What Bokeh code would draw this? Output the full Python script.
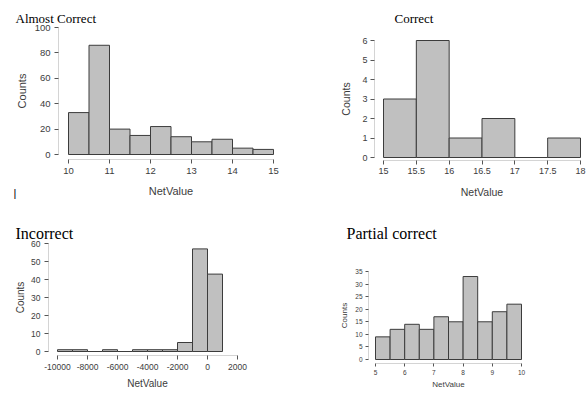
from bokeh.plotting import figure
from bokeh.layouts import column, row
from bokeh.models import Label, FixedTicker, Range1d
from bokeh.embed import file_html
from bokeh.resources import INLINE

# ---------------- data ----------------
ac_title = "Almost Correct"
ac_edges = [10, 10.5, 11, 11.5, 12, 12.5, 13, 13.5, 14, 14.5, 15]
ac_counts = [33, 86, 20, 15, 22, 14, 10, 12, 5, 4]
ac_xticks = [10, 11, 12, 13, 14, 15]
ac_xlabels = ["10", "11", "12", "13", "14", "15"]
ac_yticks = [0, 20, 40, 60, 80, 100]

co_title = "Correct"
co_edges = [15, 15.5, 16, 16.5, 17, 17.5, 18]
co_counts = [3, 6, 1, 2, 0, 1]
co_xticks = [15, 15.5, 16, 16.5, 17, 17.5, 18]
co_xlabels = ["15", "15.5", "16", "16.5", "17", "17.5", "18"]
co_yticks = [0, 1, 2, 3, 4, 5, 6]

in_title = "Incorrect"
in_edges = [-10000, -9000, -8000, -7000, -6000, -5000, -4000, -3000, -2000, -1000, 0, 1000]
in_counts = [1, 1, 0, 1, 0, 1, 1, 1, 5, 57, 43]
in_xticks = [-10000, -8000, -6000, -4000, -2000, 0, 2000]
in_xlabels = ["-10000", "-8000", "-6000", "-4000", "-2000", "0", "2000"]
in_yticks = [0, 10, 20, 30, 40, 50, 60]

pc_title = "Partial correct"
pc_edges = [5, 5.5, 6, 6.5, 7, 7.5, 8, 8.5, 9, 9.5, 10]
pc_counts = [9, 12, 14, 12, 17, 15, 33, 15, 19, 22]
pc_xticks = [5, 6, 7, 8, 9, 10]
pc_xlabels = ["5", "6", "7", "8", "9", "10"]
pc_yticks = [0, 5, 10, 15, 20, 25, 30, 35]

x_name = "NetValue"
y_name = "Counts"

FILL = "#c0c0c0"
EDGE = "#3c3c3c"
AXLINE = "#d4d4d4"
TICK = "#555555"
TXT = "#3c3c3c"
SANS = "Liberation Sans"
SERIF = "Liberation Serif"


def panel(edges, counts, xticks, xlabels, yticks, title, geo, sty, extra=None):
    ox, oy, W, H = geo["fig"]
    (xv0, px0), (xv1, px1) = geo["xcal"]
    (yv0, py0), (yv1, py1) = geo["ycal"]
    sx = (px1 - px0) / (xv1 - xv0)
    sy = (py0 - py1) / (yv1 - yv0)
    x0 = xv0 - (px0 - ox) / sx
    x1 = x0 + W / sx
    y0 = yv0 - (oy + H - py0) / sy
    y1 = y0 + H / sy

    def to_data(px, py):
        return x0 + (px - ox) / sx, y0 + (oy + H - py) / sy

    p = figure(width=W, height=H, output_backend="svg", toolbar_location=None,
               x_range=Range1d(x0, x1), y_range=Range1d(y0, y1), min_border=0)
    p.min_border_left = 0
    p.min_border_right = 0
    p.min_border_top = 0
    p.min_border_bottom = 0
    p.title = None
    p.xgrid.visible = False
    p.ygrid.visible = False
    p.outline_line_color = None
    p.background_fill_color = "white"
    p.border_fill_color = "white"

    p.quad(left=edges[:-1], right=edges[1:], bottom=[0] * len(counts), top=counts,
           fill_color=FILL, line_color=EDGE, line_width=1)

    for ax, ticks in ((p.xaxis[0], xticks), (p.yaxis[0], yticks)):
        ax.bounds = (ticks[0], ticks[-1])
        ax.ticker = FixedTicker(ticks=ticks)
        ax.minor_tick_in = 0
        ax.minor_tick_out = 0
        ax.major_tick_in = 0
        ax.major_tick_out = sty["tick"]
        ax.axis_line_color = AXLINE
        ax.major_tick_line_color = TICK
        ax.major_label_text_font = SANS
        ax.major_label_text_font_size = sty["tfs"]
        ax.major_label_text_color = TXT
        ax.major_label_standoff = sty["mls"]
        ax.axis_label_text_font = SANS
        ax.axis_label_text_font_size = sty["afs"]
        ax.axis_label_text_font_style = "normal"
        ax.axis_label_text_color = TXT
    p.xaxis[0].major_label_overrides = dict(zip(xticks, xlabels))
    p.yaxis[0].major_label_overrides = {t: str(t) for t in yticks}
    p.xaxis[0].axis_label = x_name
    p.yaxis[0].axis_label = y_name
    p.xaxis[0].axis_label_standoff = sty["xals"]
    p.yaxis[0].axis_label_standoff = sty["yals"]

    ax_x, ax_y = geo["axes"]
    p.yaxis[0].fixed_location = to_data(ax_x, 0)[0]
    p.xaxis[0].fixed_location = to_data(0, ax_y)[1]

    tx, ty = to_data(*geo["title"])
    p.add_layout(Label(x=tx, y=ty, text=title, text_font=SERIF,
                       text_font_size=geo["title_fs"], text_color="black",
                       text_baseline="alphabetic", text_align="left"))
    if extra:
        ex, ey = to_data(*extra[0])
        p.add_layout(Label(x=ex, y=ey, text=extra[1], text_font=SANS,
                           text_font_size="11px", text_color="black",
                           text_baseline="middle", text_align="left"))
    return p


p1 = panel(ac_edges, ac_counts, ac_xticks, ac_xlabels, ac_yticks, ac_title,
           dict(fig=(0, 0, 294, 200), axes=(58, 159),
                xcal=((10, 68), (15, 273)), ycal=((0, 154), (100, 27)),
                title=(15, 18), title_fs="13px"),
           dict(tick=4, tfs="9.5px", afs="11px", mls=4, xals=8, yals=4),
           extra=((13, 192), "|"))
p2 = panel(co_edges, co_counts, co_xticks, co_xlabels, co_yticks, co_title,
           dict(fig=(294, 0, 294, 200), axes=(374, 160),
                xcal=((15, 383), (18, 580)), ycal=((0, 157), (6, 40)),
                title=(394, 18), title_fs="13px"),
           dict(tick=4, tfs="9px", afs="10.5px", mls=3, xals=9, yals=7))
p3 = panel(in_edges, in_counts, in_xticks, in_xlabels, in_yticks, in_title,
           dict(fig=(0, 200, 294, 193), axes=(48, 355),
                xcal=((-10000, 57), (2000, 237)), ycal=((0, 351), (60, 243)),
                title=(15, 233), title_fs="16px"),
           dict(tick=4, tfs="8.5px", afs="10px", mls=4, xals=5, yals=2))
p4 = panel(pc_edges, pc_counts, pc_xticks, pc_xlabels, pc_yticks, pc_title,
           dict(fig=(294, 200, 294, 193), axes=(368, 363),
                xcal=((5, 375), (10, 521)), ycal=((0, 359), (35, 271)),
                title=(346, 233), title_fs="16px"),
           dict(tick=3, tfs="6.5px", afs="8px", mls=3, xals=2, yals=3))

layout = column(row(p1, p2, spacing=0), row(p3, p4, spacing=0), spacing=0)

open("out.html", "w").write(file_html(layout, INLINE))
